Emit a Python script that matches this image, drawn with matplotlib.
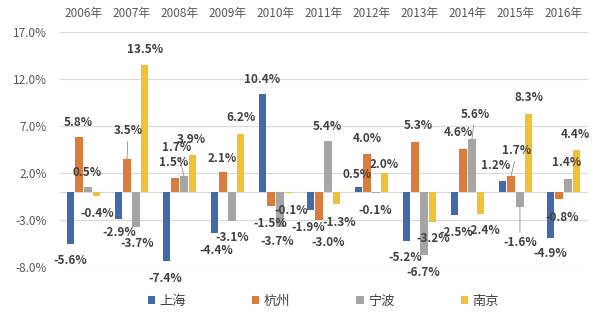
import matplotlib
matplotlib.use("Agg")
import matplotlib.pyplot as plt
import numpy as np
from matplotlib.patches import Patch

plt.rcParams['font.family'] = ['Noto Sans CJK SC', 'DejaVu Sans']

years = ["2006年", "2007年", "2008年", "2009年", "2010年", "2011年",
         "2012年", "2013年", "2014年", "2015年", "2016年"]
cities = ["上海", "杭州", "宁波", "南京"]
shanghai = [-5.6, -2.9, -7.4, -4.4, 10.4, -1.9, 0.5, -5.2, -2.5, 1.2, -4.9]
hangzhou = [5.8, 3.5, 1.5, 2.1, -1.5, -3.0, 4.0, 5.3, 4.6, 1.7, -0.8]
ningbo = [0.5, -3.7, 1.7, -3.1, -3.7, 5.4, -0.1, -6.7, 5.6, -1.6, 1.4]
nanjing = [-0.4, 13.5, 3.9, 6.2, -0.1, -1.3, 2.0, -3.2, -2.4, 8.3, 4.4]
yticks = [-8, -3, 2, 7, 12, 17]

colors = ["#4169AD", "#DE7A3A", "#A5A5A5", "#F2C12E"]

# label offsets in pixels from the bar end (dx, dy), per series per year
label_offsets = [
    [(0, -16), (1, -13), (-1, -17), (2, -17), (0, 15), (-2, -18), (-1, 13), (-1, -17), (2, -17), (-7, 15), (0, -16)],
    [(-1, 15), (1, 28), (-1, 15), (-1, 14), (-1, -18), (9, -22), (0, 16), (3, 16), (-5, 16), (6, 25), (3, -18)],
    [(-1, 15), (1, -17), (-7, 28), (0, -17), (-3, -15), (-1, 15), (-1, -18), (-1, -18), (3, 25), (0, -36), (-1, 16)],
    [(0, -18), (0, 15), (-2, 16), (0, 16), (2, -18), (2, -18), (-1, 8), (0, -17), (2, -16), (0, 16), (-1, 16)],
]
leaders = {(1, 1), (2, 2), (2, 8), (1, 9), (2, 9)}

series = [shanghai, hangzhou, ningbo, nanjing]
x = np.arange(len(years))
width = 0.15
step = 0.185

fig = plt.figure(figsize=(6.01, 3.21), dpi=100)
ax = fig.add_axes([59.5 / 601, 1 - 267 / 321, 528 / 601, 235 / 321])

for k, vals in enumerate(series):
    xs = x + (k - 1.5) * step
    bars = ax.bar(xs, vals, width=width, color=colors[k], zorder=2)
    for j, (b, v) in enumerate(zip(bars, vals)):
        dx, dy = label_offsets[k][j]
        arrow = None
        if (k, j) in leaders:
            arrow = dict(arrowstyle='-', color='#8c8c8c', lw=0.6, shrinkA=1, shrinkB=0)
        ax.annotate(f"{v:.1f}%", xy=(b.get_x() + b.get_width() / 2, v),
                    xytext=(dx, dy), textcoords='offset pixels',
                    ha='center', va='center', fontsize=8.5, fontweight='bold',
                    color='#404040', arrowprops=arrow, zorder=4)

ax.set_xlim(-0.5, len(years) - 0.5)
ax.set_ylim(-8, 17)
ax.set_yticks(yticks)
ax.set_yticklabels([f"{t:.1f}%" for t in yticks])
ax.yaxis.grid(True, color='#d9d9d9', lw=0.8, zorder=0)
ax.axhline(0, color='#d9d9d9', lw=0.8, zorder=1)
ax.set_axisbelow(True)
for s in ax.spines.values():
    s.set_visible(False)

ax.xaxis.tick_top()
ax.set_xticks(x)
ax.set_xticklabels(years)
ax.tick_params(axis='x', length=0, pad=9, labelsize=8.5, labelcolor='#595959')
ax.tick_params(axis='y', length=0, pad=9, labelsize=8.5, labelcolor='#595959')

handles = [Patch(facecolor=c, edgecolor='none') for c in colors]
ax.legend(handles, cities, loc='center', bbox_to_anchor=(0.5, -0.145), ncol=4,
          frameon=False, fontsize=9.5, handlelength=0.55, handleheight=0.55,
          handletextpad=0.35, columnspacing=5.0, labelcolor='#404040')

fig.savefig("out.png", dpi=100)
